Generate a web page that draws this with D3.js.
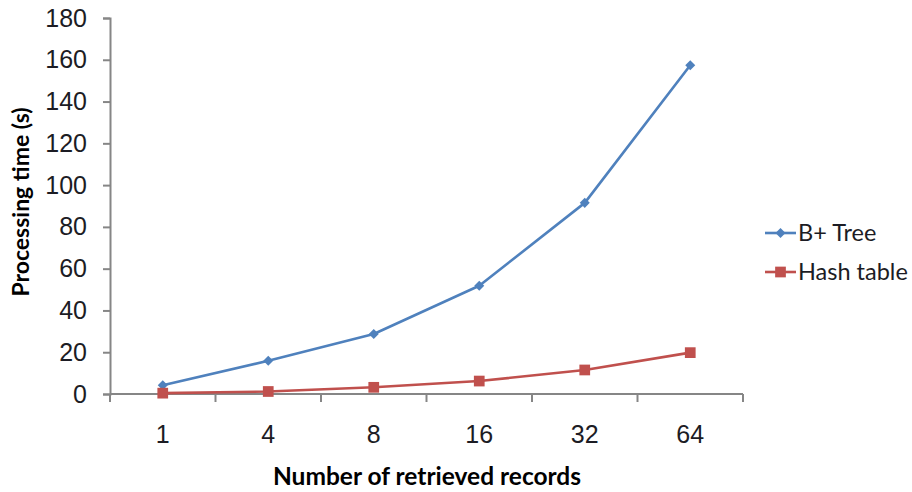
<!DOCTYPE html>
<html>
<head>
<meta charset="utf-8">
<script src="https://cdn.jsdelivr.net/npm/d3@7"></script>
<style>
  body { margin: 0; background: #fff; }
  svg { display: block; font-family: Lato, "Open Sans", "Liberation Sans", sans-serif; }
</style>
</head>
<body>
<svg id="chart" width="912" height="492"></svg>
<script>
// Retrieval benchmark: processing time vs. number of records fetched
const categories = ["1", "4", "8", "16", "32", "64"];
const bTree = [4.2, 15.9, 28.7, 51.8, 91.5, 157.4];
const hashTable = [0.4, 1.2, 3.2, 6.2, 11.5, 19.8];
const yTicks = [0, 20, 40, 60, 80, 100, 120, 140, 160, 180];
const seriesNames = ["B+ Tree", "Hash table"];
const seriesColors = ["#4F81BD", "#C0504D"];

const svg = d3.select("#chart");
const plot = { left: 110, right: 743, top: 18, bottom: 394 };

const x = d3.scaleBand().domain(categories).range([plot.left, plot.right]).paddingInner(0).paddingOuter(0);
const y = d3.scaleLinear().domain([0, 180]).range([plot.bottom, plot.top]);

const axisColor = "#868686";
const textColor = "#1c1c24";

// Y axis
const yAxis = svg.append("g")
  .attr("transform", `translate(${plot.left},0)`)
  .call(d3.axisLeft(y).tickValues(yTicks).tickSize(7).tickPadding(16));
// X axis with ticks at the category boundaries
const xAxis = svg.append("g")
  .attr("transform", `translate(0,${plot.bottom})`)
  .call(d3.axisBottom(x).tickSize(0).tickPadding(31));

[yAxis, xAxis].forEach(g => {
  g.select(".domain").attr("stroke", axisColor).attr("stroke-width", 2);
  g.selectAll(".tick line").attr("stroke", axisColor).attr("stroke-width", 2);
  g.selectAll(".tick text").attr("fill", textColor).style("font-size", "25px");
});
xAxis.select(".domain").attr("d", `M${plot.left},0H${plot.right}`);

const bounds = categories.map(c => x(c)).concat([plot.right]);
xAxis.selectAll(".bound").data(bounds).enter().append("line")
  .attr("x1", d => d).attr("x2", d => d)
  .attr("y1", 0).attr("y2", 8)
  .attr("stroke", axisColor).attr("stroke-width", 2);

// Series lines and markers
const cx = c => x(c) + x.bandwidth() / 2;
const line = d3.line().x((d, i) => cx(categories[i])).y(d => y(d));
const data = [bTree, hashTable];

const diamond = d3.symbol().type(d3.symbolDiamond2).size(64);
const square = d3.symbol().type(d3.symbolSquare).size(115);

data.forEach((vals, si) => {
  svg.append("path").datum(vals)
    .attr("d", line).attr("fill", "none")
    .attr("stroke", seriesColors[si]).attr("stroke-width", 2.6)
    .attr("stroke-linejoin", "round");
  svg.selectAll(null).data(vals).enter().append("path")
    .attr("transform", (d, i) => `translate(${cx(categories[i])},${y(d)})`)
    .attr("d", si === 0 ? diamond : square)
    .attr("fill", seriesColors[si]);
});

// Legend
const legend = svg.append("g");
seriesNames.forEach((name, i) => {
  const ly = 233 + i * 39;
  legend.append("line").attr("x1", 765).attr("x2", 796).attr("y1", ly).attr("y2", ly)
    .attr("stroke", seriesColors[i]).attr("stroke-width", 2.6);
  legend.append("path").attr("transform", `translate(780.5,${ly})`)
    .attr("d", i === 0 ? diamond : square).attr("fill", seriesColors[i]);
  legend.append("text").attr("x", 798).attr("y", ly).attr("dy", "0.36em")
    .attr("fill", textColor).style("font-size", "23.5px").text(name);
});

// Axis titles
svg.append("text").attr("x", 427).attr("y", 485)
  .attr("text-anchor", "middle").attr("fill", "#000")
  .style("font-size", "24.5px").style("font-weight", "bold")
  .text("Number of retrieved records");
svg.append("text").attr("transform", "translate(29,202) rotate(-90)")
  .attr("text-anchor", "middle").attr("fill", "#000")
  .style("font-size", "23px").style("font-weight", "bold")
  .text("Processing time (s)");
</script>
</body>
</html>
